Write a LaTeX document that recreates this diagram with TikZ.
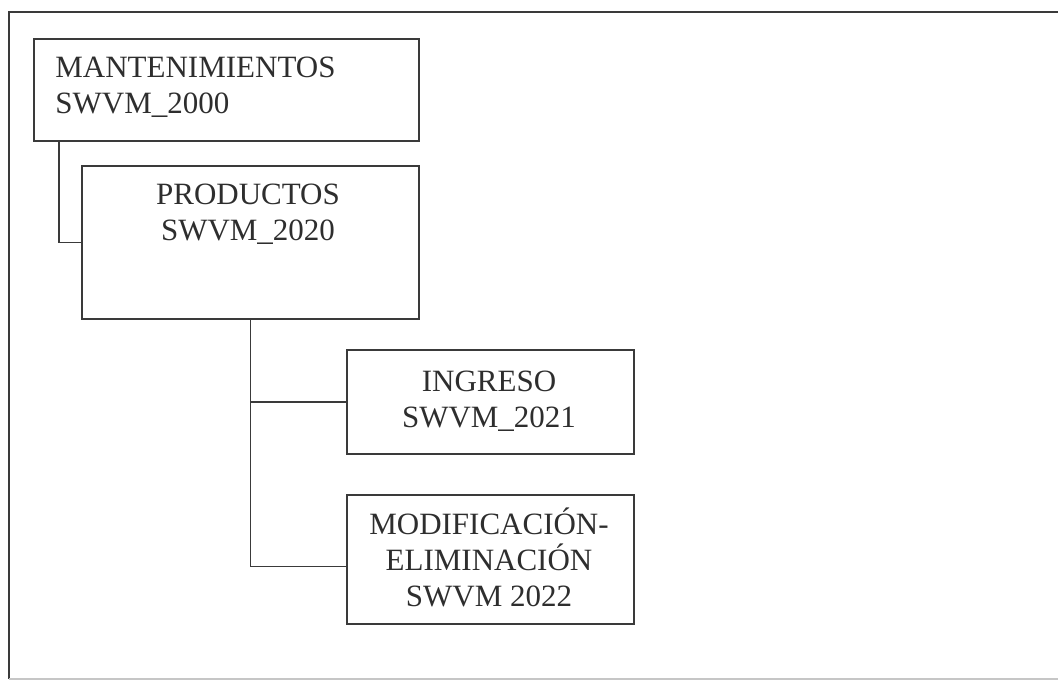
\documentclass[tikz,border=0pt]{standalone}
\usepackage{fontspec}
\setmainfont{Liberation Serif}
\definecolor{ink}{HTML}{3A3A3A}
\definecolor{txt}{HTML}{2E2E2E}
\begin{document}
\begin{tikzpicture}[x=0.5pt,y=-0.5pt,
  box/.style={draw=ink,line width=0.85pt,rectangle,inner sep=0pt,anchor=north west},
  lbl/.style={text=txt,inner sep=0pt,font=\fontsize{15.5}{18}\selectfont},
  wire/.style={draw=ink,line width=0.8pt}]
\useasboundingbox (0,0) rectangle (1058,680);
% outer frame
\draw[ink,line width=0.9pt] (9,679) -- (9,12) -- (1070,12);
\draw[gray!45,line width=0.7pt] (9,679) -- (1070,679);
% boxes
\node[box,minimum width=192.5pt,minimum height=51pt] (b1) at (33,38) {};
\node[box,minimum width=168.5pt,minimum height=76.5pt] (b2) at (81,165) {};
\node[box,minimum width=143.5pt,minimum height=52pt] (b3) at (346,349) {};
\node[box,minimum width=143.5pt,minimum height=64.5pt] (b4) at (346,494) {};
% texts (base anchor = last line baseline)
\node[lbl,align=left,anchor=base west] (t1) at (55,113) {MANTENIMIENTOS\\SWVM\_2000};
\node[lbl,align=center,anchor=base] (t2) at (248,240) {PRODUCTOS\\SWVM\_2020};
\node[lbl,align=center,anchor=base] (t3) at (489,427) {INGRESO\\SWVM\_2021};
\node[lbl,align=center,anchor=base] (t4) at (489,606) {MODIFICACIÓN-\\ELIMINACIÓN\\SWVM 2022};
% connectors
\coordinate (k1) at ([xshift=13pt]b1.south west);
\draw[wire] (k1) |- (b2.west);
\coordinate (k4) at ([yshift=-3.5pt]b4.west);
\draw[wire] (b2.south) |- (b3.west);
\draw[wire] (b2.south) |- (k4);
\end{tikzpicture}
\end{document}
